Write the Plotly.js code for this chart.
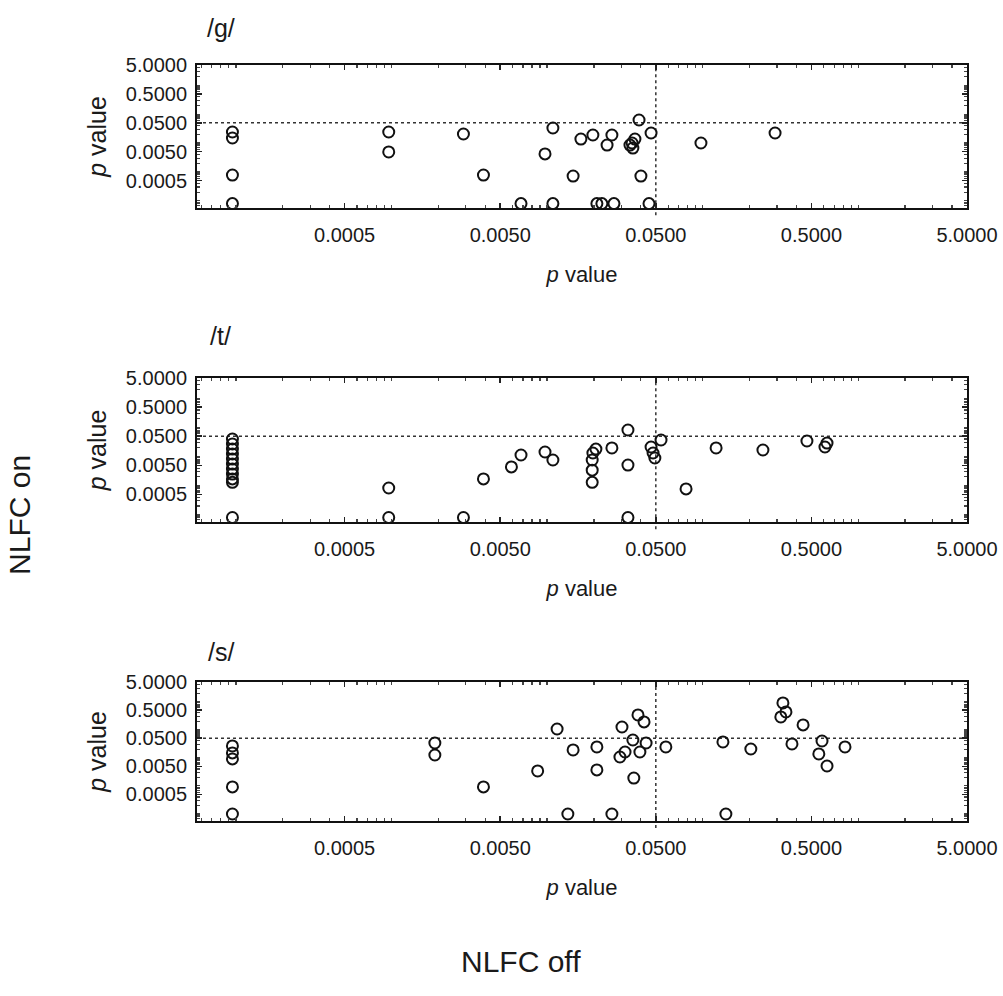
<!DOCTYPE html>
<html>
<head>
<meta charset="utf-8">
<script src="https://cdn.plot.ly/plotly-3.0.1.min.js"></script>
<style>html,body{margin:0;padding:0;background:#fff;}#chart{width:1003px;height:996px;}</style>
</head>
<body>
<div id="chart"></div>
<script>
// ---- data (p values) ----
const panelTitles = ['/g/', '/t/', '/s/'];
const tickVals = [0.0005, 0.005, 0.05, 0.5, 5];
const tickText = ['0.0005', '0.0050', '0.0500', '0.5000', '5.0000'];
const threshold = 0.05;

// /g/  (x: NLFC off p value, y: NLFC on p value)
const gX = [0.000095, 0.000095, 0.000095, 0.000095, 0.00096, 0.00096, 0.0029, 0.0039, 0.0068, 0.0097,
            0.0109, 0.0109, 0.0147, 0.0165, 0.0197, 0.0209, 0.0225, 0.0269, 0.0261, 0.0243,
            0.0341, 0.0352, 0.0356, 0.0367, 0.039, 0.0401, 0.0452, 0.0466, 0.0975, 0.292];
const gY = [0.024, 0.0149, 0.00078, 0.00008, 0.024, 0.0049, 0.0205, 0.00078, 0.00008, 0.0042,
            0.033, 0.00008, 0.00072, 0.0137, 0.0189, 0.00008, 0.00008, 0.00008, 0.0189, 0.0085,
            0.0085, 0.0100, 0.0067, 0.0137, 0.0625, 0.00072, 0.00008, 0.0222, 0.0100, 0.0222];

// /t/
const tX = [0.000095, 0.000095, 0.000095, 0.000095, 0.000095, 0.000095, 0.000095, 0.000095, 0.000095, 0.000095, 0.000095,
            0.00096, 0.00096, 0.0029, 0.0039, 0.0059, 0.0068, 0.0097, 0.0109,
            0.0206, 0.0197, 0.0195, 0.0195, 0.0195, 0.0261, 0.0331, 0.0331, 0.0331,
            0.0466, 0.048, 0.0493, 0.054, 0.0782, 0.122, 0.244, 0.468, 0.611, 0.630];
const tY = [0.040, 0.027, 0.018, 0.0122, 0.0082, 0.0055, 0.0037, 0.0025, 0.0017, 0.0013, 0.00008,
            0.00083, 0.00008, 0.00008, 0.0017, 0.0044, 0.0113, 0.0143, 0.0076,
            0.018, 0.0132, 0.0076, 0.0034, 0.0013, 0.0197, 0.0817, 0.0051, 0.00008,
            0.0213, 0.0132, 0.0089, 0.037, 0.00077, 0.0197, 0.0168, 0.0342, 0.0213, 0.029];

// /s/
const sX = [0.000095, 0.000095, 0.000095, 0.000095, 0.000095, 0.0019, 0.0019, 0.0039, 0.0087, 0.0116,
            0.0136, 0.0147, 0.0209, 0.0209, 0.0261, 0.0303, 0.0294, 0.0317, 0.0356, 0.0384,
            0.042, 0.0395, 0.0433, 0.0361, 0.058, 0.135, 0.141, 0.204, 0.318, 0.328,
            0.343, 0.375, 0.442, 0.585, 0.558, 0.630, 0.822];
const sY = [0.0264, 0.0149, 0.0091, 0.00092, 0.0001, 0.0337, 0.0126, 0.00092, 0.0034, 0.106,
            0.0001, 0.019, 0.0243, 0.0037, 0.0001, 0.125, 0.0107, 0.0161, 0.0431, 0.335,
            0.189, 0.0161, 0.0337, 0.0019, 0.0243, 0.0366, 0.0001, 0.0206, 0.284, 0.895,
            0.428, 0.0311, 0.148, 0.0397, 0.0137, 0.0051, 0.0243];

// ---- styling ----
const FONT = 'Liberation Sans, Arial, sans-serif';
const INK = '#1a1a1a';
const logRange = [-4.25, Math.log10(5)];

// minor log ticks at 1..9 x 10^n (axis decoration only)
const minorVals = [];
for (let e = -5; e <= 0; e++) {
  for (let k = 1; k <= 9; k++) minorVals.push(k * Math.pow(10, e));
}

function scatter(x, y, n) {
  const s = n === 1 ? '' : String(n);
  return {
    type: 'scatter', mode: 'markers', x: x, y: y,
    xaxis: 'x' + s, yaxis: 'y' + s,
    marker: {symbol: 'circle-open', size: 11, color: '#111', line: {width: 2, color: '#111'}},
    hoverinfo: 'x+y', cliponaxis: true
  };
}

const minorTicks = {tickmode: 'array', tickvals: minorVals, ticks: 'inside', ticklen: 3, tickwidth: 1.2,
                    tickcolor: '#444', showgrid: false};

function xAxis(anchor) {
  return {
    type: 'log', range: logRange, domain: [0, 1], anchor: anchor,
    tickmode: 'array', tickvals: tickVals, ticktext: tickText,
    ticks: 'inside', ticklen: 5, tickwidth: 1.5, tickcolor: '#222',
    ticklabelstandoff: 8,
    minor: minorTicks,
    showline: true, linewidth: 2, linecolor: '#111', mirror: 'ticks',
    showgrid: false, zeroline: false,
    tickfont: {family: FONT, size: 20, color: INK},
    title: {text: '<i>p</i> value', font: {family: FONT, size: 22, color: INK}, standoff: 22}
  };
}
function yAxis(dom, anchor) {
  return {
    type: 'log', range: logRange, domain: dom, anchor: anchor,
    tickmode: 'array', tickvals: tickVals, ticktext: tickText,
    ticks: 'inside', ticklen: 5, tickwidth: 1.5, tickcolor: '#222',
    ticklabelstandoff: 4,
    minor: minorTicks,
    showline: true, linewidth: 2, linecolor: '#111', mirror: 'ticks',
    showgrid: false, zeroline: false,
    tickfont: {family: FONT, size: 20, color: INK},
    title: {text: '<i>p</i> value', font: {family: FONT, size: 25, color: INK}, standoff: 12}
  };
}

const data = [scatter(gX, gY, 1), scatter(tX, tY, 2), scatter(sX, sY, 3)];

const shapes = [];
['', '2', '3'].forEach(function (s) {
  shapes.push({type: 'line', xref: 'x' + s + ' domain', yref: 'y' + s, x0: 0, x1: 1, y0: threshold, y1: threshold,
               line: {color: '#333', width: 1.5, dash: 'dot'}, layer: 'below'});
  shapes.push({type: 'line', xref: 'x' + s, yref: 'y' + s + ' domain', x0: threshold, x1: threshold, y0: -0.05, y1: 1,
               line: {color: '#333', width: 1.5, dash: 'dot'}, layer: 'below'});
});

const titleY = [1.049, 0.6415, 0.2235];
const annotations = panelTitles.map(function (t, i) {
  return {text: t, xref: 'paper', yref: 'paper', x: 0.031, y: titleY[i], xanchor: 'center', yanchor: 'middle',
          showarrow: false, font: {family: FONT, size: 25, color: INK}};
});
annotations.push({text: 'NLFC on', xref: 'paper', yref: 'paper', x: -0.2299, y: 0.4048, textangle: -90,
                  xanchor: 'center', yanchor: 'middle', showarrow: false, font: {family: FONT, size: 30, color: INK}});
annotations.push({text: 'NLFC off', xref: 'paper', yref: 'paper', x: 0.4208, y: -0.1865,
                  xanchor: 'center', yanchor: 'middle', showarrow: false, font: {family: FONT, size: 30, color: INK}});

const layout = {
  width: 1003, height: 996,
  margin: {l: 197, r: 36, t: 65, b: 175},
  paper_bgcolor: '#fff', plot_bgcolor: '#fff',
  showlegend: false,
  xaxis: xAxis('y'), yaxis: yAxis([0.8108, 1.0], 'x'),
  xaxis2: xAxis('y2'), yaxis2: yAxis([0.3955, 0.5860], 'x2'),
  xaxis3: xAxis('y3'), yaxis3: yAxis([0.0, 0.1839], 'x3'),
  shapes: shapes,
  annotations: annotations
};

Plotly.newPlot('chart', data, layout, {displayModeBar: false, staticPlot: true});
</script>
</body>
</html>
